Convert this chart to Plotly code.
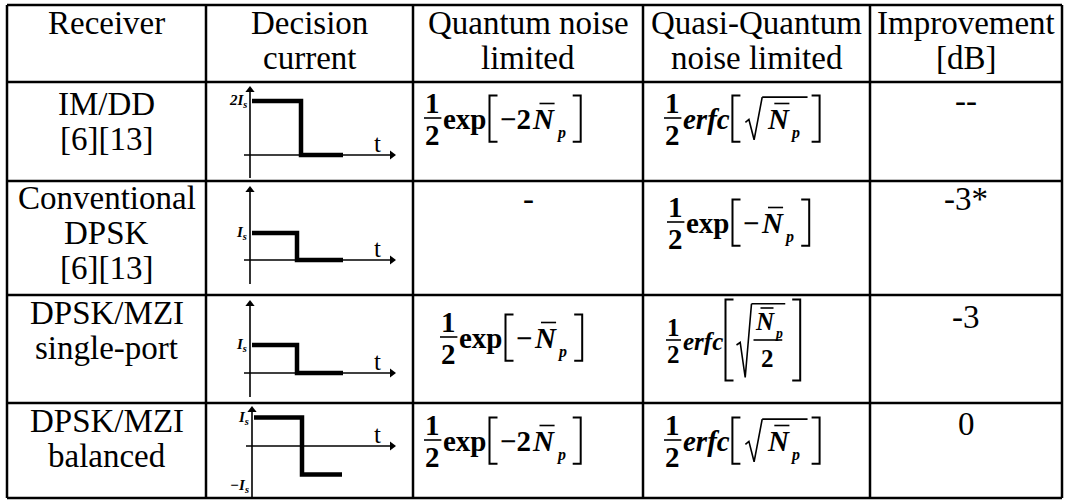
import plotly.graph_objects as go

# ---------------- data ----------------
header_lines = [["Receiver"], ["Decision", "current"], ["Quantum noise", "limited"],
                ["Quasi-Quantum", "noise limited"], ["Improvement", "[dB]"]]
receiver_lines = [["IM/DD", "[6][13]"], ["Conventional", "DPSK", "[6][13]"],
                  ["DPSK/MZI", "single-port"], ["DPSK/MZI", "balanced"]]
improvement = ["--", "-3*", "-3", "0"]
# quantum-noise-limited BER: (function, coefficient of N_p) ; None = not given
quantum_ber = [("exp", "2"), None, ("exp", ""), ("exp", "2")]
# quasi-quantum-noise-limited BER
quasi_ber = [("erfc", "1"), ("exp", ""), ("erfc", "1/2"), ("erfc", "1")]
# decision current pulse levels (high, low) in units of I_s
pulse_levels = [(2, 0), (1, 0), (1, 0), (1, -1)]
level_labels = [["2I<sub>s</sub>"], ["I<sub>s</sub>"], ["I<sub>s</sub>"], ["I<sub>s</sub>", "−I<sub>s</sub>"]]

# ---------------- layout geometry ----------------
W, H = 1068, 503
col_x = [7, 206, 413, 643, 870, 1062]
row_y = [5, 82, 181, 295, 403, 498]
SERIF = "Liberation Serif, Times New Roman, DejaVu Serif, serif"
FS = 33
LINE = 35

fig = go.Figure()
shapes, annos = [], []


def text(x, y, s, size=FS, xanchor="center", yanchor="middle"):
    annos.append(dict(x=x, y=y, xref="x", yref="y", text=s, showarrow=False,
                      font=dict(family=SERIF, size=size, color="black"),
                      xanchor=xanchor, yanchor=yanchor, borderpad=0))


def seg(x0, y0, x1, y1, w=1.5):
    shapes.append(dict(type="line", xref="x", yref="y", x0=x0, y0=y0, x1=x1, y1=y1,
                       line=dict(color="black", width=w)))


def poly(pts, w=1.5):
    d = "M " + " L ".join(f"{a:.1f},{b:.1f}" for a, b in pts)
    shapes.append(dict(type="path", xref="x", yref="y", path=d,
                       line=dict(color="black", width=w)))


# grid
for x in col_x:
    seg(x, row_y[0], x, row_y[-1], 2.5)
for y in row_y:
    seg(col_x[0], y, col_x[-1], y, 2.5)

cx = [(col_x[i] + col_x[i + 1]) / 2 for i in range(5)]

# header
for i, lines in enumerate(header_lines):
    for k, s in enumerate(lines):
        text(cx[i], 23 + k * LINE, s)

# receiver names and improvement values
rec_top = [104, 198, 313, 421]
imp_y = [101, 199, 317, 424]
for r in range(4):
    for k, s in enumerate(receiver_lines[r]):
        text(cx[0], rec_top[r] + k * LINE, s)
    text(cx[4], imp_y[r], improvement[r])


# ---------------- formula pieces ----------------
def half(x, yc, F):
    w = 0.6 * F
    seg(x, yc, x + w, yc, 1.6)
    text(x + w / 2, yc - 0.52 * F, "<b>1</b>", F)
    text(x + w / 2, yc + 0.58 * F, "<b>2</b>", F)
    return x + w + 1


def bracket(x, yc, top, bot, left=True, w=8):
    if left:
        poly([(x + w, yc - top), (x, yc - top), (x, yc + bot), (x + w, yc + bot)], 2)
    else:
        poly([(x, yc - top), (x + w, yc - top), (x + w, yc + bot), (x, yc + bot)], 2)
    return x + w


def nbar(x, yc, F):
    text(x, yc + 1, "<b><i>N</i></b>", F, xanchor="left")
    seg(x + 0.28 * F, yc - 0.5 * F, x + 0.8 * F, yc - 0.5 * F, 1.6)
    text(x + 0.8 * F, yc + 0.5 * F, "<b><i>p</i></b>", 0.55 * F, xanchor="left")
    return x + 0.8 * F + 0.35 * F


def formula(x, yc, kind, coef, F):
    x = half(x, yc, F)
    if kind == "exp":
        text(x, yc + 1, "<b>exp</b>", F, xanchor="left")
        x += 1.52 * F + 3
        x = bracket(x, yc, 0.78 * F, 0.82 * F, True) + 2
        arg = "−" + coef
        text(x, yc + 1, "<b>" + arg + "</b>", F, xanchor="left")
        x += 0.6 * F + (0.5 * F if coef else 0)
        x = nbar(x, yc, F) + 8
        bracket(x, yc, 0.78 * F, 0.82 * F, False)
    else:
        text(x, yc + 1, "<b><i>erfc</i></b>", F, xanchor="left")
        x += 1.62 * F + 3
        if coef == "1":
            x = bracket(x, yc, 0.78 * F, 0.82 * F, True) + 5
            rt = yc - 0.72 * F
            x0 = x
            xs = x0 + 0.58 * F
            poly([(x0, yc + 0.15 * F), (x0 + 0.12 * F, yc + 0.05 * F),
                  (x0 + 0.3 * F, yc + 0.75 * F), (xs, rt)], 1.6)
            x = nbar(xs + 4, yc, F) + 8
            seg(xs, rt, x, rt, 1.6)
            x += 4
            bracket(x, yc, 0.78 * F, 0.82 * F, False)
        else:
            x = bracket(x, yc, 1.62 * F, 1.62 * F, True) + 3
            rt = yc - 1.45 * F
            x0 = x
            xs = x0 + 0.6 * F
            poly([(x0, yc + 0.2 * F), (x0 + 0.15 * F, yc + 0.1 * F),
                  (x0 + 0.35 * F, yc + 1.5 * F), (xs, rt)], 1.6)
            nx = xs + 2
            xe = nbar(nx, yc - 0.78 * F, F)
            seg(nx, yc, xe, yc, 1.6)
            text((nx + xe) / 2, yc + 0.72 * F, "<b>2</b>", F)
            seg(xs, rt, xe + 3, rt, 1.6)
            x = xe + 10
            bracket(x, yc, 1.62 * F, 1.62 * F, False)


q_pos = [(424, 118, 29), None, (440, 337, 29), (424, 440, 29)]
qq_pos = [(664, 118, 29), (667, 222, 29), (666, 340, 25), (664, 440, 29)]
for r in range(4):
    if quantum_ber[r] is None:
        text(cx[2], 199, "-")
    else:
        x, y, F = q_pos[r]
        formula(x, y, quantum_ber[r][0], quantum_ber[r][1], F)
    x, y, F = qq_pos[r]
    formula(x, y, quasi_ber[r][0], quasi_ber[r][1], F)

# ---------------- decision current sketches ----------------
axis_x = [250, 250, 250, 252]
axis_top = [86, 186, 300, 406]
axis_bot = [178, 284, 397, 498]
zero_y = [155, 260, 373, 446]
unit = [27, 27, 28, 28.5]
pulse_x = [(252, 301, 343), (252, 297, 343), (252, 297, 343), (254, 302, 342)]
for r in range(4):
    ax, z, u = axis_x[r], zero_y[r], unit[r]
    hi, lo = pulse_levels[r]
    # axes
    fig.add_trace(go.Scatter(x=[ax, ax], y=[axis_bot[r], axis_top[r] + 6], mode="lines",
                             line=dict(color="black", width=1.6), hoverinfo="skip"))
    fig.add_trace(go.Scatter(x=[ax - 6, 390], y=[z, z], mode="lines",
                             line=dict(color="black", width=1.6), hoverinfo="skip"))
    fig.add_trace(go.Scatter(x=[ax, 392], y=[axis_top[r] + 4, z], mode="markers",
                             marker=dict(symbol=["triangle-up", "triangle-right"], size=8,
                                         color="black"), hoverinfo="skip"))
    # pulse
    xa, xb, xc = pulse_x[r]
    fig.add_trace(go.Scatter(x=[xa, xb, xb, xc], y=[z - hi * u, z - hi * u, z - lo * u, z - lo * u],
                             mode="lines", line=dict(color="black", width=4.5), hoverinfo="skip"))
    text(377, z - 12, "t", 25)
    text(ax - 2, z - hi * u, "<b><i>" + level_labels[r][0] + "</i></b>", 15, xanchor="right")
    if lo < 0:
        text(ax - 2, z - lo * u + 11, "<b><i>" + level_labels[r][1] + "</i></b>", 15, xanchor="right")

fig.update_layout(width=W, height=H, margin=dict(l=0, r=0, t=0, b=0),
                  paper_bgcolor="white", plot_bgcolor="white", showlegend=False,
                  xaxis=dict(range=[0, W], visible=False, fixedrange=True),
                  yaxis=dict(range=[H, 0], visible=False, fixedrange=True),
                  shapes=shapes, annotations=annos)
fig.write_html("out.html", config={"displayModeBar": False},
               post_script="document.body.style.margin='0px';document.body.style.padding='0px';")
